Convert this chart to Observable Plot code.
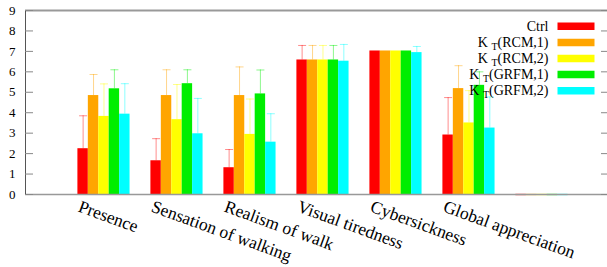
<!DOCTYPE html>
<html>
<head>
<meta charset="utf-8">
<script src="https://cdn.jsdelivr.net/npm/d3@7"></script>
<script src="https://cdn.jsdelivr.net/npm/@observablehq/plot@0.6"></script>
<style>
  html, body { margin: 0; padding: 0; background: #fff; }
  #chart svg { display: block; }
  #chart svg text { font-family: 'Liberation Serif', 'Times New Roman', serif; }
</style>
</head>
<body>
<div id="chart"></div>
<script>
// ---- data ----
const categories = ["Presence", "Sensation of walking", "Realism of walk", "Visual tiredness", "Cybersickness", "Global appreciation", ""];
const series = ["Ctrl", "K_T(RCM,1)", "K_T(RCM,2)", "K_T(GRFM,1)", "K_T(GRFM,2)"];
const colors = ["#ff0000", "#ffa500", "#ffff00", "#00ee00", "#00ffff"];
// mean values per series (one entry per category)
const ctrlMean  = [2.24, 1.65, 1.31, 6.58, 7.02, 2.91, 0];
const rcm1Mean  = [4.84, 4.84, 4.84, 6.58, 7.02, 5.18, 0];
const rcm2Mean  = [3.82, 3.66, 2.94, 6.58, 7.02, 3.50, 0];
const grfm1Mean = [5.17, 5.42, 4.92, 6.58, 7.02, 5.34, 0];
const grfm2Mean = [3.93, 2.97, 2.56, 6.52, 6.94, 3.25, 0];
// upper end of error bars
const ctrlErr  = [3.85, 2.73, 2.20, 7.29, 7.02, 4.74, 0];
const rcm1Err  = [5.87, 6.10, 6.24, 7.29, 7.02, 6.30, 0];
const rcm2Err  = [5.41, 5.38, 4.67, 7.29, 7.02, 5.08, 0];
const grfm1Err = [6.10, 6.10, 6.09, 7.29, 7.02, 6.00, 0];
const grfm2Err = [5.42, 4.70, 3.95, 7.34, 7.24, 4.77, 0];
const yTicks = [0, 1, 2, 3, 4, 5, 6, 7, 8, 9];

const means = [ctrlMean, rcm1Mean, rcm2Mean, grfm1Mean, grfm2Mean];
const errs = [ctrlErr, rcm1Err, rcm2Err, grfm1Err, grfm2Err];

// ---- layout ----
const W = 607, H = 267, mL = 25, mR = 0, mT = 10, mB = 73;
const nS = series.length, gap = 2, bw = 1 / (nS + gap);
const xDomain = [-1.075, 6.8976];
const plotW = W - mL - mR;

const rows = categories.flatMap((c, i) => series.map((s, j) => ({
  cat: c, i, j, s,
  mean: means[j][i], err: errs[j][i],
  x1: i + (j - nS / 2) * bw,
  x2: i + (j + 1 - nS / 2) * bw,
  xc: i + (j + 0.5 - nS / 2) * bw
})));
const filled = rows.filter(d => d.cat !== "");
const empty = rows.filter(d => d.cat === "");
const withErr = filled.filter(d => d.err > d.mean + 0.01);

const capSym = { draw(ctx) { ctx.moveTo(-4, 0); ctx.lineTo(4, 0); } };
const swatchSym = { draw(ctx) { ctx.rect(-18.5, -3.75, 37, 7.5); } };

const font = "'Liberation Serif', 'Times New Roman', serif";

const legendMarks = series.flatMap((s, j) => [
  Plot.dot([s], { frameAnchor: "top-right", dx: -31.5, dy: 15.8 + 16.1 * j, symbol: swatchSym, r: 5, fill: colors[j], stroke: null }),
  Plot.text([s], { frameAnchor: "top-right", dx: -59, dy: 15.8 + 16.1 * j, text: d => d, textAnchor: "end", lineAnchor: "middle", fontSize: 14, fontFamily: font, fill: "#000" })
]);

const chart = Plot.plot({
  width: W, height: H,
  marginLeft: mL, marginRight: mR, marginTop: mT, marginBottom: mB,
  style: { fontFamily: font, background: "#fff" },
  x: { type: "linear", domain: xDomain, axis: null },
  y: { domain: [0, 9], axis: null },
  color: { domain: series, range: colors },
  marks: [
    // error bars (behind bars)
    Plot.ruleX(withErr, { x: "xc", y1: "mean", y2: "err", stroke: "s", strokeOpacity: 0.45, strokeWidth: 1 }),
    Plot.dot(withErr, { x: "xc", y: "err", symbol: capSym, r: 4, stroke: "s", strokeOpacity: 0.45, fill: "none", strokeWidth: 1 }),
    // bars
    Plot.rectY(filled, { x1: "x1", x2: "x2", y: "mean", fill: "s", inset: 0 }),
    Plot.ruleY(empty, { y: 0, x1: "x1", x2: "x2", stroke: "s", strokeOpacity: 0.35, strokeWidth: 2 }),
    // frame
    Plot.ruleY([0], { stroke: "#999", strokeWidth: 1.5 }),
    Plot.ruleY([9], { stroke: "#999", strokeWidth: 2 }),
    Plot.ruleX([xDomain[0]], { stroke: "#555", strokeWidth: 1 }),
    // inward ticks left and right
    Plot.tickY(yTicks, { y: d => d, stroke: "#888", insetRight: plotW - 8 }),
    Plot.tickY(yTicks, { y: d => d, stroke: "#888", insetLeft: plotW - 6 }),
    // y tick labels
    Plot.axisY(yTicks, { anchor: "left", tickSize: 0, tickPadding: 10, fontSize: 13, fontFamily: font, fill: "#000", label: null }),
    // category labels
    Plot.text(categories.map((c, i) => ({ c, i })).filter(d => d.c !== ""), {
      x: "i", y: 0, text: "c", rotate: 20, textAnchor: "start", lineAnchor: "top",
      dx: -22.5, dy: 5, fontSize: 17.5, fontFamily: font, fill: "#000"
    }),
    ...legendMarks
  ]
});

// subscripts in legend labels (K_T -> K with subscript T)
d3.select(chart).selectAll("text").each(function () {
  const t = this.textContent;
  const m = /^(.*?)_(.)(.*)$/.exec(t);
  if (!m) return;
  const sel = d3.select(this);
  sel.text(null);
  sel.append("tspan").text(m[1] + " ");
  sel.append("tspan").attr("font-size", 10).attr("dy", 3).text(m[2]);
  sel.append("tspan").attr("dy", -3).text(m[3]);
});

document.getElementById("chart").appendChild(chart);
</script>
</body>
</html>
